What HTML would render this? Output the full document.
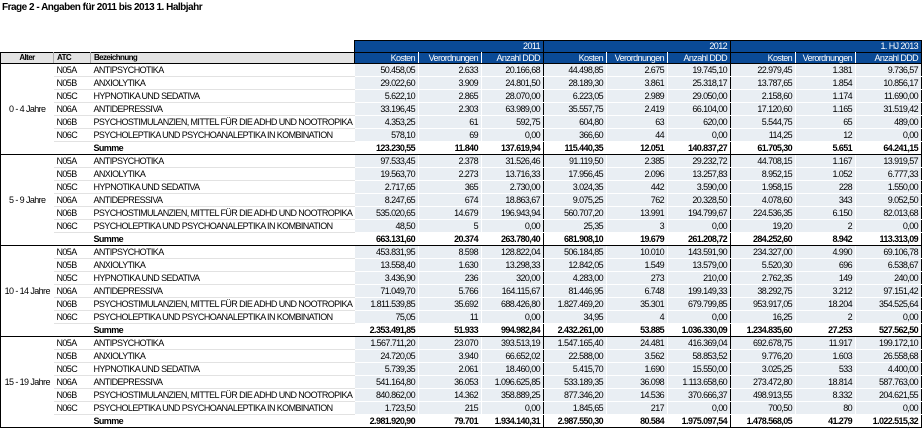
<!DOCTYPE html>
<html><head><meta charset="utf-8">
<style>
html,body{margin:0;padding:0;background:#fff;width:922px;height:428px;overflow:hidden}
body{font-family:"Liberation Sans",sans-serif;}
.title{position:absolute;left:2px;top:2px;font-size:10px;font-weight:bold;letter-spacing:-0.5px;color:#000}
table{position:absolute;left:0;top:40px;border-collapse:collapse;table-layout:fixed;width:921px;font-size:9px;letter-spacing:-0.6px;color:#000}
td{padding:0 3px;height:12px;line-height:12px;white-space:nowrap;overflow:hidden;border:0}
tr.h1 td{height:11px;line-height:11px}
tr.h2 td{height:10px;line-height:10px}
.h1 td.b{background:#0a4a96;color:#fff;text-align:right;border-top:1px solid #000}
.h2 td{border-top:1px solid #000;border-bottom:1px solid #000}
.h2 td.g{background:#e3e3e3;font-weight:bold;border-right:1px solid #aaa;font-size:8px}
.h2 td.b{background:#0a4a96;color:#fff;text-align:right;border-right:1px solid #fff}
td.n{background:#e9eef3;text-align:right;border-right:1px solid #fff;border-bottom:1px solid #fff}
td.a{text-align:center;border-left:1px solid #000;border-bottom:1px solid #000;padding:0}
td.t{border-bottom:1px solid #e2e2e2}
tr.s td{font-weight:bold;border-bottom:1px solid #000}
tr.s td.n{background:#fff}
.y{border-right:1px solid #000 !important}
.L{border-left:1px solid #000 !important}
.R{border-right:1px solid #000 !important}
</style></head><body>
<div class="title">Frage 2 - Angaben für 2011 bis 2013 1. Halbjahr</div>
<table>
<colgroup><col style="width:53px"><col style="width:37px"><col style="width:264px"><col style="width:64px"><col style="width:63px"><col style="width:62px"><col style="width:63px"><col style="width:61px"><col style="width:63px"><col style="width:65px"><col style="width:60px"><col style="width:66px"></colgroup>
<tr class="h1"><td></td><td></td><td></td><td class="b L" colspan="3" style="border-right:1px solid #000">2011</td><td class="b" colspan="3" style="border-right:1px solid #000">2012</td><td class="b R" colspan="3">1. HJ 2013</td></tr>
<tr class="h2"><td class="g L" style="text-align:center">Alter</td><td class="g">ATC</td><td class="g" style="border-right:1px solid #000">Bezeichnung</td><td class="b">Kosten</td><td class="b">Verordnungen</td><td class="b y">Anzahl DDD</td><td class="b">Kosten</td><td class="b">Verordnungen</td><td class="b y">Anzahl DDD</td><td class="b">Kosten</td><td class="b">Verordnungen</td><td class="b R">Anzahl DDD</td></tr>

<tr class="d"><td class="a" rowspan="7">0 - 4 Jahre</td><td class="t">N05A</td><td class="t">ANTIPSYCHOTIKA</td><td class="n">50.458,05</td><td class="n">2.633</td><td class="n y">20.166,68</td><td class="n">44.498,85</td><td class="n">2.675</td><td class="n y">19.745,10</td><td class="n">22.979,45</td><td class="n">1.381</td><td class="n R">9.736,57</td></tr>
<tr class="d"><td class="t">N05B</td><td class="t">ANXIOLYTIKA</td><td class="n">29.022,60</td><td class="n">3.909</td><td class="n y">24.801,50</td><td class="n">28.189,30</td><td class="n">3.861</td><td class="n y">25.318,17</td><td class="n">13.787,65</td><td class="n">1.854</td><td class="n R">10.856,17</td></tr>
<tr class="d"><td class="t">N05C</td><td class="t">HYPNOTIKA UND SEDATIVA</td><td class="n">5.622,10</td><td class="n">2.865</td><td class="n y">28.070,00</td><td class="n">6.223,05</td><td class="n">2.989</td><td class="n y">29.050,00</td><td class="n">2.158,60</td><td class="n">1.174</td><td class="n R">11.690,00</td></tr>
<tr class="d"><td class="t">N06A</td><td class="t">ANTIDEPRESSIVA</td><td class="n">33.196,45</td><td class="n">2.303</td><td class="n y">63.989,00</td><td class="n">35.557,75</td><td class="n">2.419</td><td class="n y">66.104,00</td><td class="n">17.120,60</td><td class="n">1.165</td><td class="n R">31.519,42</td></tr>
<tr class="d"><td class="t">N06B</td><td class="t">PSYCHOSTIMULANZIEN, MITTEL FÜR DIE ADHD UND NOOTROPIKA</td><td class="n">4.353,25</td><td class="n">61</td><td class="n y">592,75</td><td class="n">604,80</td><td class="n">63</td><td class="n y">620,00</td><td class="n">5.544,75</td><td class="n">65</td><td class="n R">489,00</td></tr>
<tr class="d"><td class="t">N06C</td><td class="t">PSYCHOLEPTIKA UND PSYCHOANALEPTIKA IN KOMBINATION</td><td class="n">578,10</td><td class="n">69</td><td class="n y">0,00</td><td class="n">366,60</td><td class="n">44</td><td class="n y">0,00</td><td class="n">114,25</td><td class="n">12</td><td class="n R">0,00</td></tr>
<tr class="d s"><td></td><td>Summe</td><td class="n">123.230,55</td><td class="n">11.840</td><td class="n y">137.619,94</td><td class="n">115.440,35</td><td class="n">12.051</td><td class="n y">140.837,27</td><td class="n">61.705,30</td><td class="n">5.651</td><td class="n R">64.241,15</td></tr>

<tr class="d"><td class="a" rowspan="7">5 - 9 Jahre</td><td class="t">N05A</td><td class="t">ANTIPSYCHOTIKA</td><td class="n">97.533,45</td><td class="n">2.378</td><td class="n y">31.526,46</td><td class="n">91.119,50</td><td class="n">2.385</td><td class="n y">29.232,72</td><td class="n">44.708,15</td><td class="n">1.167</td><td class="n R">13.919,57</td></tr>
<tr class="d"><td class="t">N05B</td><td class="t">ANXIOLYTIKA</td><td class="n">19.563,70</td><td class="n">2.273</td><td class="n y">13.716,33</td><td class="n">17.956,45</td><td class="n">2.096</td><td class="n y">13.257,83</td><td class="n">8.952,15</td><td class="n">1.052</td><td class="n R">6.777,33</td></tr>
<tr class="d"><td class="t">N05C</td><td class="t">HYPNOTIKA UND SEDATIVA</td><td class="n">2.717,65</td><td class="n">365</td><td class="n y">2.730,00</td><td class="n">3.024,35</td><td class="n">442</td><td class="n y">3.590,00</td><td class="n">1.958,15</td><td class="n">228</td><td class="n R">1.550,00</td></tr>
<tr class="d"><td class="t">N06A</td><td class="t">ANTIDEPRESSIVA</td><td class="n">8.247,65</td><td class="n">674</td><td class="n y">18.863,67</td><td class="n">9.075,25</td><td class="n">762</td><td class="n y">20.328,50</td><td class="n">4.078,60</td><td class="n">343</td><td class="n R">9.052,50</td></tr>
<tr class="d"><td class="t">N06B</td><td class="t">PSYCHOSTIMULANZIEN, MITTEL FÜR DIE ADHD UND NOOTROPIKA</td><td class="n">535.020,65</td><td class="n">14.679</td><td class="n y">196.943,94</td><td class="n">560.707,20</td><td class="n">13.991</td><td class="n y">194.799,67</td><td class="n">224.536,35</td><td class="n">6.150</td><td class="n R">82.013,68</td></tr>
<tr class="d"><td class="t">N06C</td><td class="t">PSYCHOLEPTIKA UND PSYCHOANALEPTIKA IN KOMBINATION</td><td class="n">48,50</td><td class="n">5</td><td class="n y">0,00</td><td class="n">25,35</td><td class="n">3</td><td class="n y">0,00</td><td class="n">19,20</td><td class="n">2</td><td class="n R">0,00</td></tr>
<tr class="d s"><td></td><td>Summe</td><td class="n">663.131,60</td><td class="n">20.374</td><td class="n y">263.780,40</td><td class="n">681.908,10</td><td class="n">19.679</td><td class="n y">261.208,72</td><td class="n">284.252,60</td><td class="n">8.942</td><td class="n R">113.313,09</td></tr>

<tr class="d"><td class="a" rowspan="7">10 - 14 Jahre</td><td class="t">N05A</td><td class="t">ANTIPSYCHOTIKA</td><td class="n">453.831,95</td><td class="n">8.598</td><td class="n y">128.822,04</td><td class="n">506.184,85</td><td class="n">10.010</td><td class="n y">143.591,90</td><td class="n">234.327,00</td><td class="n">4.990</td><td class="n R">69.106,78</td></tr>
<tr class="d"><td class="t">N05B</td><td class="t">ANXIOLYTIKA</td><td class="n">13.558,40</td><td class="n">1.630</td><td class="n y">13.298,33</td><td class="n">12.842,05</td><td class="n">1.549</td><td class="n y">13.579,00</td><td class="n">5.520,30</td><td class="n">696</td><td class="n R">6.538,67</td></tr>
<tr class="d"><td class="t">N05C</td><td class="t">HYPNOTIKA UND SEDATIVA</td><td class="n">3.436,90</td><td class="n">236</td><td class="n y">320,00</td><td class="n">4.283,00</td><td class="n">273</td><td class="n y">210,00</td><td class="n">2.762,35</td><td class="n">149</td><td class="n R">240,00</td></tr>
<tr class="d"><td class="t">N06A</td><td class="t">ANTIDEPRESSIVA</td><td class="n">71.049,70</td><td class="n">5.766</td><td class="n y">164.115,67</td><td class="n">81.446,95</td><td class="n">6.748</td><td class="n y">199.149,33</td><td class="n">38.292,75</td><td class="n">3.212</td><td class="n R">97.151,42</td></tr>
<tr class="d"><td class="t">N06B</td><td class="t">PSYCHOSTIMULANZIEN, MITTEL FÜR DIE ADHD UND NOOTROPIKA</td><td class="n">1.811.539,85</td><td class="n">35.692</td><td class="n y">688.426,80</td><td class="n">1.827.469,20</td><td class="n">35.301</td><td class="n y">679.799,85</td><td class="n">953.917,05</td><td class="n">18.204</td><td class="n R">354.525,64</td></tr>
<tr class="d"><td class="t">N06C</td><td class="t">PSYCHOLEPTIKA UND PSYCHOANALEPTIKA IN KOMBINATION</td><td class="n">75,05</td><td class="n">11</td><td class="n y">0,00</td><td class="n">34,95</td><td class="n">4</td><td class="n y">0,00</td><td class="n">16,25</td><td class="n">2</td><td class="n R">0,00</td></tr>
<tr class="d s"><td></td><td>Summe</td><td class="n">2.353.491,85</td><td class="n">51.933</td><td class="n y">994.982,84</td><td class="n">2.432.261,00</td><td class="n">53.885</td><td class="n y">1.036.330,09</td><td class="n">1.234.835,60</td><td class="n">27.253</td><td class="n R">527.562,50</td></tr>

<tr class="d"><td class="a" rowspan="7">15 - 19 Jahre</td><td class="t">N05A</td><td class="t">ANTIPSYCHOTIKA</td><td class="n">1.567.711,20</td><td class="n">23.070</td><td class="n y">393.513,19</td><td class="n">1.547.165,40</td><td class="n">24.481</td><td class="n y">416.369,04</td><td class="n">692.678,75</td><td class="n">11.917</td><td class="n R">199.172,10</td></tr>
<tr class="d"><td class="t">N05B</td><td class="t">ANXIOLYTIKA</td><td class="n">24.720,05</td><td class="n">3.940</td><td class="n y">66.652,02</td><td class="n">22.588,00</td><td class="n">3.562</td><td class="n y">58.853,52</td><td class="n">9.776,20</td><td class="n">1.603</td><td class="n R">26.558,68</td></tr>
<tr class="d"><td class="t">N05C</td><td class="t">HYPNOTIKA UND SEDATIVA</td><td class="n">5.739,35</td><td class="n">2.061</td><td class="n y">18.460,00</td><td class="n">5.415,70</td><td class="n">1.690</td><td class="n y">15.550,00</td><td class="n">3.025,25</td><td class="n">533</td><td class="n R">4.400,00</td></tr>
<tr class="d"><td class="t">N06A</td><td class="t">ANTIDEPRESSIVA</td><td class="n">541.164,80</td><td class="n">36.053</td><td class="n y">1.096.625,85</td><td class="n">533.189,35</td><td class="n">36.098</td><td class="n y">1.113.658,60</td><td class="n">273.472,80</td><td class="n">18.814</td><td class="n R">587.763,00</td></tr>
<tr class="d"><td class="t">N06B</td><td class="t">PSYCHOSTIMULANZIEN, MITTEL FÜR DIE ADHD UND NOOTROPIKA</td><td class="n">840.862,00</td><td class="n">14.362</td><td class="n y">358.889,25</td><td class="n">877.346,20</td><td class="n">14.536</td><td class="n y">370.666,37</td><td class="n">498.913,55</td><td class="n">8.332</td><td class="n R">204.621,55</td></tr>
<tr class="d"><td class="t">N06C</td><td class="t">PSYCHOLEPTIKA UND PSYCHOANALEPTIKA IN KOMBINATION</td><td class="n">1.723,50</td><td class="n">215</td><td class="n y">0,00</td><td class="n">1.845,65</td><td class="n">217</td><td class="n y">0,00</td><td class="n">700,50</td><td class="n">80</td><td class="n R">0,00</td></tr>
<tr class="d s"><td></td><td>Summe</td><td class="n">2.981.920,90</td><td class="n">79.701</td><td class="n y">1.934.140,31</td><td class="n">2.987.550,30</td><td class="n">80.584</td><td class="n y">1.975.097,54</td><td class="n">1.478.568,05</td><td class="n">41.279</td><td class="n R">1.022.515,32</td></tr>
</table>
</body></html>
